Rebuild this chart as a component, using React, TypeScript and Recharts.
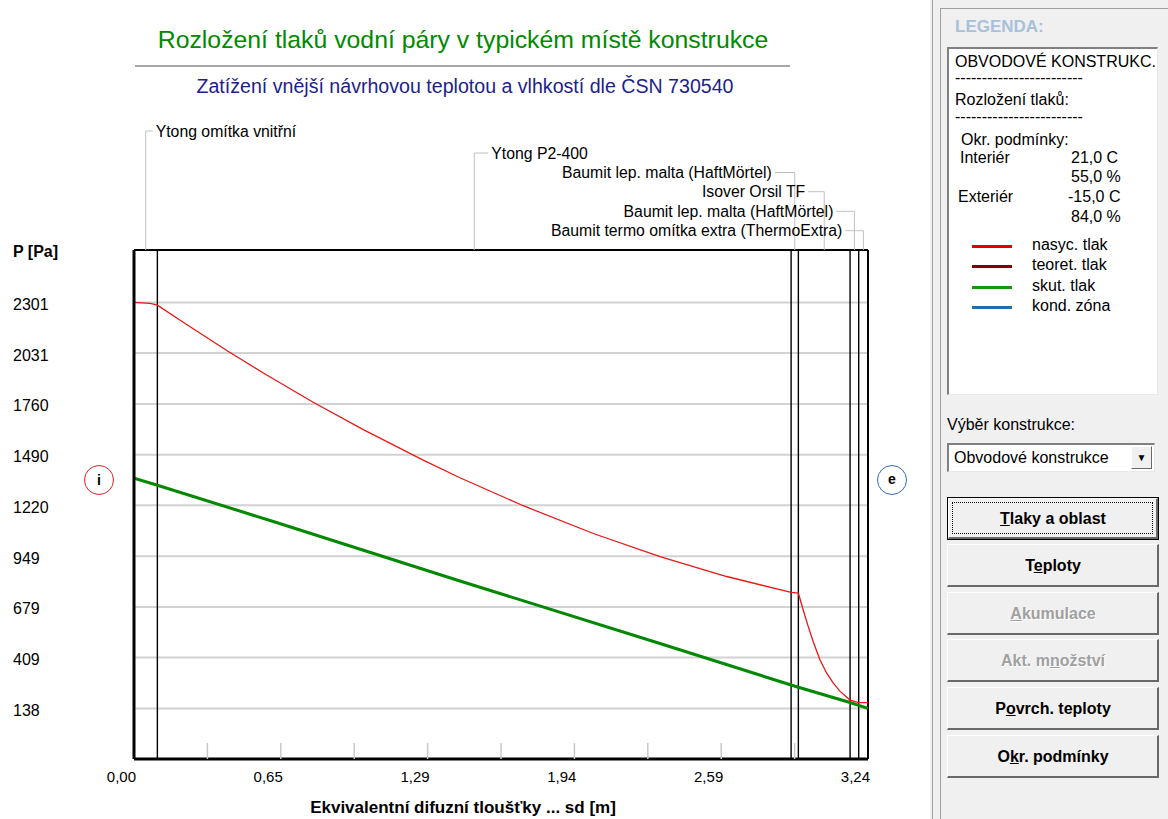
import { ComposedChart, Line, XAxis, YAxis, CartesianGrid, ReferenceLine } from 'recharts'

// layers of the wall, inside -> outside, boundaries in sd [m]
const layerNames = [
  'Ytong omítka vnitřní',
  'Ytong P2-400',
  'Baumit lep. malta (HaftMörtel)',
  'Isover Orsil TF',
  'Baumit lep. malta (HaftMörtel)',
  'Baumit termo omítka extra (ThermoExtra)',
]
const layerBounds = [0, 0.103, 2.897, 2.929, 3.157, 3.195, 3.236]

// nasyc. tlak (saturation pressure)
const satSd = [0, 0.071, 0.103, 0.217, 0.409, 0.585, 0.79, 1.011, 1.275, 1.437, 1.716, 2.025, 2.319, 2.613, 2.897, 2.929, 2.951, 2.973, 2.995, 3.024, 3.054, 3.083, 3.113, 3.157, 3.195, 3.236]
const satPa = [2301, 2296, 2286, 2195, 2045, 1914, 1769, 1623, 1461, 1367, 1218, 1070, 947, 841, 756, 752, 660, 573, 492, 398, 326, 273, 229, 183, 169, 169]

// skut. tlak (actual pressure)
const actSd = [0, 0.103, 0.614, 1.437, 2.319, 2.897, 2.929, 3.157, 3.195, 3.236]
const actPa = [1365, 1327, 1134, 817, 484, 263, 251, 170, 155, 139]

const yTicks = [138, 409, 679, 949, 1220, 1490, 1760, 2031, 2301]
const xTickValues = [0, 0.3236, 0.6472, 0.9709, 1.2945, 1.6181, 1.9417, 2.2653, 2.589, 2.9126, 3.236]
const xTickLabels = ['0,00', '0,65', '1,29', '1,94', '2,59', '3,24']

const legendItems = [
  { label: 'nasyc. tlak', color: '#e00000' },
  { label: 'teoret. tlak', color: '#800000' },
  { label: 'skut. tlak', color: '#149614' },
  { label: 'kond. zóna', color: '#1e6eb4' },
]

const buttons = [
  { label: 'Tlaky a oblast', u: 0, disabled: false, focus: true },
  { label: 'Teploty', u: 1, disabled: false, focus: false },
  { label: 'Akumulace', u: 0, disabled: true, focus: false },
  { label: 'Akt. množství', u: 6, disabled: true, focus: false },
  { label: 'Povrch. teploty', u: 1, disabled: false, focus: false },
  { label: 'Okr. podmínky', u: 1, disabled: false, focus: false },
]

const satData = satSd.map((sd, i) => ({ sd, p: satPa[i] }))
const actData = actSd.map((sd, i) => ({ sd, p: actPa[i] }))

const FONT = "'Liberation Sans', Arial, sans-serif"
const CHART_W = 930
const CHART_H = 819
const Y_AXIS_W = 134
const X_AXIS_H = 60
const MARGIN_TOP = 250
const MARGIN_RIGHT = 62
const PLOT_BOTTOM = CHART_H - X_AXIS_H
const X_DOMAIN: [number, number] = [0, 3.236]
const Y_DOMAIN: [number, number] = [-131, 2580]
const PA_PER_PX = (Y_DOMAIN[1] - Y_DOMAIN[0]) / (PLOT_BOTTOM - MARGIN_TOP)
const SD_PER_PX = (X_DOMAIN[1] - X_DOMAIN[0]) / (CHART_W - MARGIN_RIGHT - Y_AXIS_W)

// label rows above the plot (px above the frame), leader length, side
const labelRise = [119, 97, 77.5, 58.3, 38.7, 19.3]
const leaderLen = [7, 14, 20, 16, 18, 18]
const labelSide = ['right', 'right', 'left', 'left', 'left', 'left']

const DASHES = '-'.repeat(24)

function XTick(props: any) {
  const { x, payload } = props
  const i = xTickValues.indexOf(payload.value)
  const label = i % 2 === 0 ? xTickLabels[i / 2] : null
  return (
    <g>
      {i > 0 && i < xTickValues.length - 1 && (
        <line x1={x} x2={x} y1={PLOT_BOTTOM - 16} y2={PLOT_BOTTOM} stroke="#c8c8c8" strokeWidth={1.5} />
      )}
      {label && (
        <text x={x + 2} y={776} textAnchor="end" dominantBaseline="central" fontFamily={FONT} fontSize={15} fill="#000">
          {label}
        </text>
      )}
    </g>
  )
}

function YTick(props: any) {
  const { y, payload } = props
  return (
    <text x={13} y={y + 2} dominantBaseline="central" fontFamily={FONT} fontSize={16} fill="#000">
      {payload.value}
    </text>
  )
}

const abs = (left: number, top: number, extra: any = {}) => ({ position: 'absolute' as const, left, top, ...extra })

function Btn({ b, top }: { b: typeof buttons[number]; top: number }) {
  const txt = b.label
  return (
    <div style={abs(947, top, {
      width: 212, height: 43, boxSizing: 'border-box', background: '#f0f0f0',
      border: b.focus ? '1px solid #000' : 'none',
      display: 'flex', alignItems: 'center', justifyContent: 'center',
    })}>
      <div style={{
        position: 'absolute', inset: 0, boxSizing: 'border-box',
        borderTop: '1px solid #fff', borderLeft: '1px solid #fff',
        borderRight: '2px solid #696969', borderBottom: '2px solid #696969',
      }} />
      {b.focus && <div style={{ position: 'absolute', left: 4, top: 4, right: 5, bottom: 5, border: '1px dotted #000' }} />}
      <span style={{
        position: 'relative', fontFamily: FONT, fontWeight: 700, fontSize: 16,
        color: b.disabled ? '#a0a0a0' : '#000', textShadow: b.disabled ? '1px 1px 0 #fff' : 'none',
      }}>
        {txt.slice(0, b.u)}<u>{txt[b.u]}</u>{txt.slice(b.u + 1)}
      </span>
    </div>
  )
}

export default function App() {
  const mids = layerNames.map((_, i) => (layerBounds[i] + layerBounds[i + 1]) / 2)

  return (
    <div style={abs(0, 0, { width: 1168, height: 819, background: '#fff', overflow: 'hidden', fontFamily: FONT })}>
      {/* titles */}
      <div style={abs(63, 26, { width: 800, textAlign: 'center', fontSize: 24.8, lineHeight: '28px', color: '#008a00' })}>
        Rozložení tlaků vodní páry v typickém místě konstrukce
      </div>
      <div style={abs(135, 65, { width: 655, height: 2, background: '#a8a8a8' })} />
      <div style={abs(65, 75, { width: 800, textAlign: 'center', fontSize: 19.6, lineHeight: '22px', color: '#1e1e8c' })}>
        Zatížení vnější návrhovou teplotou a vlhkostí dle ČSN 730540
      </div>

      <div style={abs(0, 0)}>
        <ComposedChart width={CHART_W} height={CHART_H} margin={{ top: MARGIN_TOP, right: MARGIN_RIGHT, bottom: 0, left: 0 }}>
          <CartesianGrid vertical={false} stroke="#d2d2d2" strokeWidth={2} />
          <XAxis
            type="number" dataKey="sd" domain={X_DOMAIN} ticks={xTickValues} interval={0}
            allowDataOverflow height={X_AXIS_H} tickLine={false} tick={<XTick />}
            axisLine={{ stroke: '#000', strokeWidth: 3 }}
          />
          <YAxis
            type="number" dataKey="p" domain={Y_DOMAIN} ticks={yTicks} interval={0}
            allowDataOverflow width={Y_AXIS_W} tickLine={false} tick={<YTick />}
            axisLine={{ stroke: '#000', strokeWidth: 3 }}
          />
          <ReferenceLine y={Y_DOMAIN[1]} stroke="#000" strokeWidth={2} ifOverflow="visible" />
          <ReferenceLine x={X_DOMAIN[1]} stroke="#000" strokeWidth={2} ifOverflow="visible" />
          {layerBounds.slice(1, -1).map((b, i) => (
            <ReferenceLine key={'b' + i} x={b} stroke="#000" strokeWidth={1.4} />
          ))}
          {layerNames.map((name, i) => {
            const yv = Y_DOMAIN[1] + labelRise[i] * PA_PER_PX
            const len = leaderLen[i] * SD_PER_PX
            const right = labelSide[i] === 'right'
            return [
              <ReferenceLine
                key={'v' + i} ifOverflow="visible" stroke="#c0c0c0" strokeWidth={1}
                segment={[{ x: mids[i], y: Y_DOMAIN[1] }, { x: mids[i], y: yv }]}
              />,
              <ReferenceLine
                key={'h' + i} ifOverflow="visible" stroke="#c0c0c0" strokeWidth={1}
                segment={right
                  ? [{ x: mids[i], y: yv }, { x: mids[i] + len, y: yv }]
                  : [{ x: mids[i] - len, y: yv }, { x: mids[i], y: yv }]}
                label={{ value: name, position: right ? 'right' : 'left', offset: 3, fill: '#000', fontSize: 15.8, fontFamily: FONT }}
              />,
            ]
          })}
          <Line data={actData} dataKey="p" type="linear" stroke="#008800" strokeWidth={3} dot={false} isAnimationActive={false} />
          <Line data={satData} dataKey="p" type="linear" stroke="#e81818" strokeWidth={1.3} dot={false} isAnimationActive={false} />
        </ComposedChart>
      </div>

      {/* axis titles */}
      <div style={abs(13, 242, { fontSize: 16, fontWeight: 700, lineHeight: '20px' })}>P [Pa]</div>
      <div style={abs(163, 797, { width: 600, textAlign: 'center', fontSize: 17, fontWeight: 700, lineHeight: '22px' })}>
        Ekvivalentní difuzní tloušťky ... sd [m]
      </div>

      {/* interior / exterior marks */}
      <div style={abs(84, 465, { width: 30, height: 30, boxSizing: 'border-box', borderRadius: '50%', border: '1px solid #e02020', textAlign: 'center', lineHeight: '28px', fontSize: 14, fontWeight: 700 })}>i</div>
      <div style={abs(877, 465, { width: 30, height: 30, boxSizing: 'border-box', borderRadius: '50%', border: '1px solid #2a6cc0', textAlign: 'center', lineHeight: '27px', fontSize: 14, fontWeight: 700 })}>e</div>

      {/* right panel */}
      <div style={abs(930, 0, { width: 238, height: 819, background: '#f0f0f0' })} />
      <div style={abs(932, 0, { width: 1, height: 819, background: '#a0a0a0' })} />
      <div style={abs(940, 8, { width: 228, height: 811, borderLeft: '1px solid #a0a0a0', borderTop: '1px solid #a0a0a0' })} />
      <div style={abs(955, 17, { fontSize: 17, fontWeight: 700, color: '#a8c0da', lineHeight: '20px' })}>LEGENDA:</div>

      <div style={abs(947, 47, {
        width: 211, height: 348, boxSizing: 'border-box', background: '#fff',
        borderTop: '2px solid #808080', borderLeft: '2px solid #808080',
        borderRight: '1px solid #e8e8e8', borderBottom: '1px solid #e8e8e8',
      })} />
      {[
        { t: 'OBVODOVÉ KONSTRUKC.', x: 955, y: 62 },
        { t: DASHES, x: 955, y: 78 },
        { t: 'Rozložení tlaků:', x: 955, y: 100 },
        { t: DASHES, x: 955, y: 117 },
        { t: 'Okr. podmínky:', x: 961, y: 140 },
        { t: 'Interiér', x: 960, y: 158 },
        { t: '21,0 C', x: 1071, y: 158 },
        { t: '55,0 %', x: 1071, y: 177 },
        { t: 'Exteriér', x: 958, y: 197 },
        { t: '-15,0 C', x: 1068, y: 197 },
        { t: '84,0 %', x: 1071, y: 217 },
      ].map((r, i) => (
        <div key={i} style={abs(r.x, r.y - 9, { fontSize: 16, lineHeight: '18px', whiteSpace: 'nowrap' })}>
          {r.t}
        </div>
      ))}
      {legendItems.map((it, i) => (
        <div key={it.label}>
          <div style={abs(972, 246 + i * 20.3 - 1, { width: 40, height: 3, background: it.color })} />
          <div style={abs(1032, 246 + i * 20.3 - 10, { fontSize: 16, lineHeight: '18px' })}>{it.label}</div>
        </div>
      ))}

      <div style={abs(947, 416, { fontSize: 16, lineHeight: '18px' })}>Výběr konstrukce:</div>
      <div style={abs(947, 443, {
        width: 208, height: 29, boxSizing: 'border-box', background: '#fff',
        borderTop: '2px solid #808080', borderLeft: '2px solid #808080',
        borderRight: '1px solid #e8e8e8', borderBottom: '1px solid #e8e8e8',
      })}>
        <div style={abs(5, 4, { fontSize: 16, lineHeight: '18px' })}>Obvodové konstrukce</div>
        <div style={abs(182, 1, {
          width: 21, height: 23, boxSizing: 'border-box', background: '#f0f0f0',
          borderTop: '1px solid #fff', borderLeft: '1px solid #fff',
          borderRight: '1px solid #696969', borderBottom: '1px solid #696969',
          textAlign: 'center', fontSize: 10, lineHeight: '21px',
        })}>▼</div>
      </div>

      {buttons.map((b, i) => (
        <Btn key={b.label} b={b} top={[497, 544, 592, 639, 687, 735][i]} />
      ))}
    </div>
  )
}
